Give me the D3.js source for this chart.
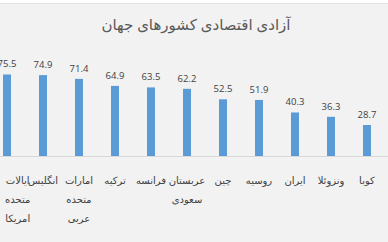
<!DOCTYPE html>
<html>
  <head>
    <meta charset="UTF-8">
    <title>آزادی اقتصادی کشورهای جهان</title>
    <script src="https://d3js.org/d3.v7.min.js" charset="utf-8"></script>
  </head>
  <style>
    html, body {
      margin: 0;
      padding: 0;
      background-color: white;
    }
    svg text {
      font-family: "Noto Sans", "DejaVu Sans", sans-serif;
    }
    svg text.title {
      font-size: 15px;
      fill: #595959;
    }
    svg text.value {
      font-family: "Open Sans", "Liberation Sans", sans-serif;
      font-size: 9.5px;
      fill: #404040;
    }
    svg text.cat {
      font-size: 10px;
      fill: #404040;
    }
  </style>
  <body>
    <div class="display"></div>
    <script>
const countries = ['ایالات متحده امریکا', 'انگلیس', 'امارات متحده عربی', 'ترکیه', 'فرانسه', 'عربستان سعودی', 'چین', 'روسیه', 'ایران', 'ونزوئلا', 'کوبا'];
const scores = [75.5, 74.9, 71.4, 64.9, 63.5, 62.2, 52.5, 51.9, 40.3, 36.3, 28.7];
const title = 'آزادی اقتصادی کشورهای جهان';

const width = 388, height = 242;
const baseY = 156;

const svg = d3.select('.display')
  .append('svg')
  .attr('width', width)
  .attr('height', height);

// chart background with thin frame line near the top
svg.append('rect')
  .attr('x', 0).attr('y', 3)
  .attr('width', width).attr('height', height - 3)
  .attr('fill', '#f2f2f2');
svg.append('line')
  .attr('x1', 0).attr('x2', width)
  .attr('y1', 3.5).attr('y2', 3.5)
  .attr('stroke', '#e3e3e3');

svg.append('text')
  .attr('class', 'title')
  .attr('x', 196)
  .attr('y', 30)
  .attr('text-anchor', 'middle')
  .attr('direction', 'rtl')
  .text(title);

const x = d3.scaleBand()
  .domain(countries)
  .range([-11, 385]);

const y = d3.scaleLinear()
  .domain([0, 100])
  .range([baseY, 48]);

const barW = 8;
const cx = d => x(d) + x.bandwidth() / 2;

svg.append('line')
  .attr('x1', 0).attr('x2', width)
  .attr('y1', baseY + 0.5).attr('y2', baseY + 0.5)
  .attr('stroke', '#d9d9d9');

svg.selectAll('.bar')
  .data(countries)
  .enter()
  .append('rect')
  .attr('class', 'bar')
  .attr('x', d => cx(d) - barW / 2)
  .attr('y', (d, i) => y(scores[i]))
  .attr('width', barW)
  .attr('height', (d, i) => baseY - y(scores[i]))
  .attr('fill', '#5b9bd5');

svg.selectAll('.value')
  .data(countries)
  .enter()
  .append('text')
  .attr('class', 'value')
  .attr('x', cx)
  .attr('y', (d, i) => y(scores[i]) - 7)
  .attr('text-anchor', 'middle')
  .text((d, i) => scores[i]);

// category labels, one word per line like the original wrapping
const cats = svg.selectAll('.cat')
  .data(countries)
  .enter()
  .append('text')
  .attr('class', 'cat')
  .attr('direction', 'rtl')
  .attr('text-anchor', 'middle')
  .attr('y', 184);

cats.each(function(d) {
  const t = d3.select(this);
  d.split(' ').forEach((w, k) => {
    t.append('tspan')
      .attr('x', cx(d))
      .attr('dy', k === 0 ? 0 : 19)
      .text(w);
  });
  // keep labels inside the picture
  const box = this.getBBox();
  let shift = 0;
  if (box.x < 5) shift = 5 - box.x;
  if (box.x + box.width > width - 4) shift = width - 4 - box.x - box.width;
  if (shift) t.selectAll('tspan').attr('x', cx(d) + shift);
});
    </script>
  </body>
</html>
